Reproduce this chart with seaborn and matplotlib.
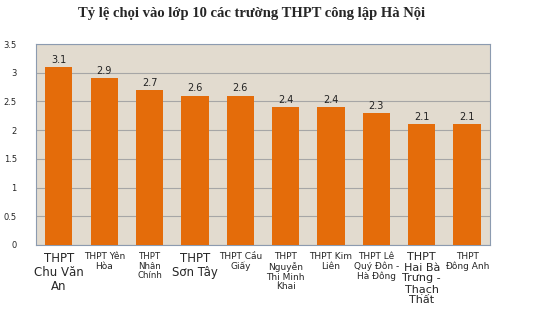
import pandas as pd
import seaborn as sns
import matplotlib.pyplot as plt

truong = [
    "THPT\nChu Văn\nAn", "THPT Yên\nHòa", "THPT\nNhân\nChính", "THPT\nSơn Tây",
    "THPT Cầu\nGiấy", "THPT\nNguyễn\nThị Minh\nKhai", "THPT Kim\nLiên",
    "THPT Lê\nQuý Đôn -\nHà Đông", "THPT\nHai Bà\nTrưng -\nThạch\nThất", "THPT\nĐông Anh",
]
ty_le = [3.1, 2.9, 2.7, 2.6, 2.6, 2.4, 2.4, 2.3, 2.1, 2.1]
co_chu = [8.5, 6.5, 6.2, 8.5, 6.5, 6.5, 6.5, 6.5, 8.0, 6.5]

df = pd.DataFrame({"truong": truong, "ty_le": ty_le})

sns.set_style("white")
fig = plt.figure(figsize=(5.4, 3.1), dpi=100)
ax = fig.add_axes([0.067, 0.21, 0.84, 0.648])
ax.set_facecolor("#e2dbcf")

sns.barplot(data=df, x="truong", y="ty_le", color="#e46c0a", width=0.6,
            saturation=1, edgecolor="none", ax=ax, zorder=3)

ax.set_ylim(0, 3.5)
ax.set_yticks([0, 0.5, 1, 1.5, 2, 2.5, 3, 3.5])
ax.set_yticklabels(["0", "0.5", "1", "1.5", "2", "2.5", "3", "3.5"], fontsize=6)
ax.yaxis.grid(True, color="#a6a6a6", linewidth=0.8, zorder=0)
ax.tick_params(axis="y", length=0, pad=14)
ax.tick_params(axis="x", length=0, pad=5)
ax.set_xlabel("")
ax.set_ylabel("")

for lbl, fs in zip(ax.get_xticklabels(), co_chu):
    lbl.set_fontsize(fs)
    lbl.set_linespacing(1.1)
    lbl.set_verticalalignment("top")

for i, v in enumerate(ty_le):
    ax.text(i, v + 0.04, str(v), ha="center", va="bottom", fontsize=7, color="#222222")

for s in ax.spines.values():
    s.set_color("#8c9bb0")
    s.set_linewidth(0.8)

fig.text(0.465, 0.955, "Tỷ lệ chọi vào lớp 10 các trường THPT công lập Hà Nội",
         ha="center", va="center", fontsize=10.5, fontweight="bold",
         family="Liberation Serif")

fig.savefig("out.png", dpi=100)
